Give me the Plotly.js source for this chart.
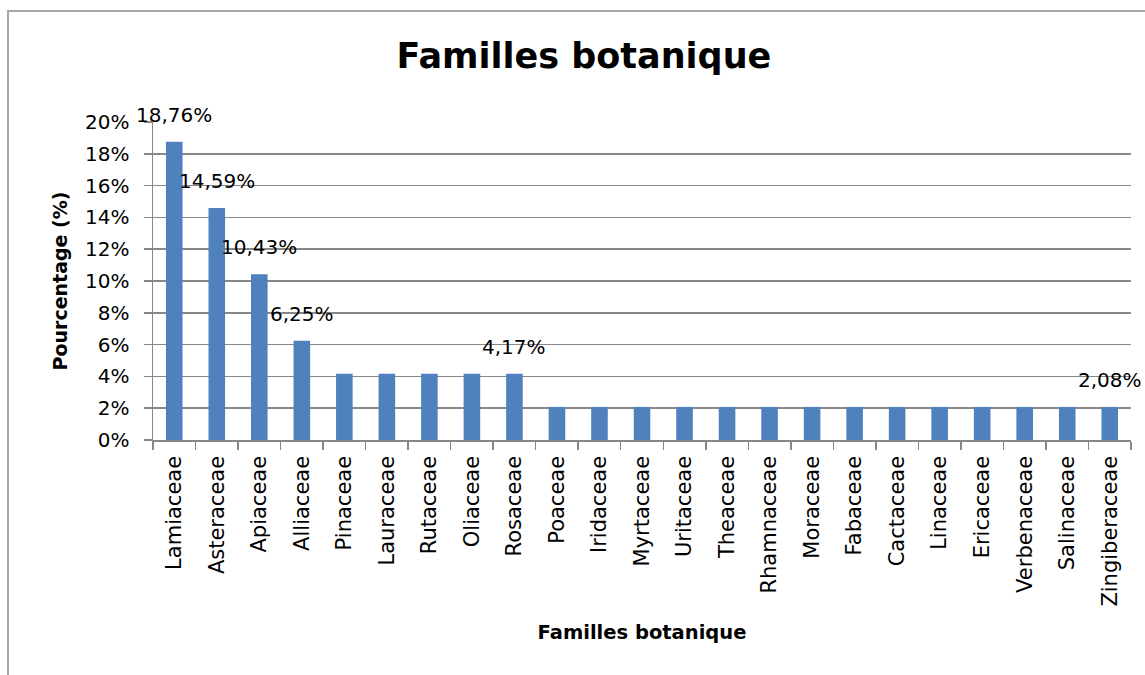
<!DOCTYPE html>
<html>
<head>
<meta charset="utf-8">
<script src="https://cdn.plot.ly/plotly-3.0.1.min.js"></script>
<style>
  html, body { margin: 0; padding: 0; background: #fff; }
  #wrap { position: relative; width: 1145px; height: 675px; overflow: hidden; }
  #chart { width: 1145px; height: 675px; }
  #frame { position: absolute; left: 7px; top: 10px; width: 1200px; height: 700px;
           border-left: 2px solid #a6a6a6; border-top: 2px solid #a6a6a6; pointer-events: none; }
</style>
</head>
<body>
<div id="wrap">
  <div id="chart"></div>
  <div id="frame"></div>
</div>
<script>
const categories = ['Lamiaceae','Asteraceae','Apiaceae','Alliaceae','Pinaceae','Lauraceae','Rutaceae',
  'Oliaceae','Rosaceae','Poaceae','Iridaceae','Myrtaceae','Uritaceae','Theaceae','Rhamnaceae',
  'Moraceae','Fabaceae','Cactaceae','Linaceae','Ericaceae','Verbenaceae','Salinaceae','Zingiberaceae'];
const percentages = [18.76, 14.59, 10.43, 6.25, 4.17, 4.17, 4.17, 4.17, 4.17, 2.08, 2.08, 2.08, 2.08,
  2.08, 2.08, 2.08, 2.08, 2.08, 2.08, 2.08, 2.08, 2.08, 2.08];
const labelledCategories = ['Lamiaceae','Asteraceae','Apiaceae','Alliaceae','Rosaceae','Zingiberaceae'];
const yTickValues = [0, 2, 4, 6, 8, 10, 12, 14, 16, 18, 20];
const yTickLabels = ['0%','2%','4%','6%','8%','10%','12%','14%','16%','18%','20%'];
const chartTitle = 'Familles botanique';
const xTitle = 'Familles botanique';
const yTitle = 'Pourcentage (%)';

const FONT = '"DejaVu Sans", Verdana, sans-serif';
const GRID = '#888888';

const annotations = labelledCategories.map(c => {
  const v = percentages[categories.indexOf(c)];
  return {
    x: c, y: v, xref: 'x', yref: 'y',
    text: v.toFixed(2).replace('.', ',') + '%',
    showarrow: false, yanchor: 'bottom', yshift: 13,
    font: {family: FONT, size: 20, color: '#000'}
  };
});

const trace = {
  type: 'bar', x: categories, y: percentages,
  marker: {color: '#4F81BD'}, hoverinfo: 'x+y'
};

const layout = {
  width: 1145, height: 675,
  margin: {l: 153, r: 14, t: 122, b: 235, pad: 0},
  paper_bgcolor: '#ffffff', plot_bgcolor: '#ffffff',
  showlegend: false,
  bargap: 0.61,
  font: {family: FONT, color: '#000'},
  title: {text: '<b>' + chartTitle + '</b>', x: 0.51, xanchor: 'center',
          y: 1 - 56 / 675, yanchor: 'middle',
          font: {family: FONT, size: 35, color: '#000'}},
  xaxis: {
    type: 'category', range: [-0.5, categories.length - 0.5], autorange: false,
    tickson: 'boundaries', ticks: 'outside', ticklen: 8,
    tickcolor: GRID, tickwidth: 1.5, showline: true, linecolor: GRID, linewidth: 1.5,
    showgrid: false, tickangle: -90, automargin: false, ticklabelstandoff: 6,
    tickfont: {family: FONT, size: 21, color: '#000'},
    title: {text: '<b>' + xTitle + '</b>', standoff: 19,
            font: {family: FONT, size: 19.5, color: '#000'}}
  },
  yaxis: {
    range: [0, 20], autorange: false, tickvals: yTickValues, ticktext: yTickLabels,
    ticks: 'outside', ticklen: 8, tickcolor: GRID, tickwidth: 1.5,
    showline: true, linecolor: GRID, linewidth: 1.5,
    showgrid: true, gridcolor: GRID, gridwidth: 1.5, zeroline: false,
    automargin: false, ticklabelstandoff: 10,
    tickfont: {family: FONT, size: 20, color: '#000'},
    title: {text: '<b>' + yTitle + '</b>', standoff: 12,
            font: {family: FONT, size: 19, color: '#000'}}
  },
  annotations: annotations
};

Plotly.newPlot('chart', [trace], layout, {displayModeBar: false, staticPlot: true});
</script>
</body>
</html>
